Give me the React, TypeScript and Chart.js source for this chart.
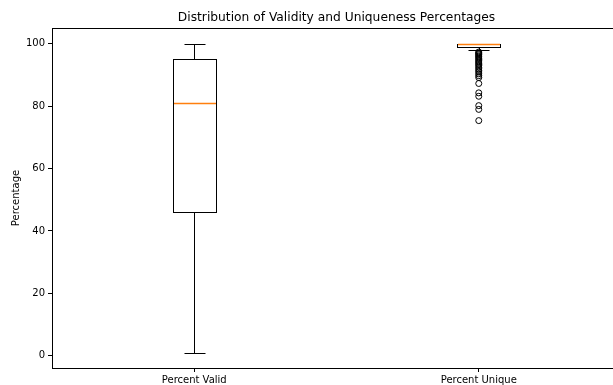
import React, { useEffect, useRef } from "react";
import { Chart, registerables } from "chart.js";

Chart.register(...registerables);

const chartTitle = "Distribution of Validity and Uniqueness Percentages";
const yAxisTitle = "Percentage";
const categories = ["Percent Valid", "Percent Unique"];
const whiskerLow = [1, 98.1];
const q1 = [46, 99];
const median = [81, 100];
const q3 = [95, 100];
const whiskerHigh = [100, 100];
const outliersValid: number[] = [];
const outliersUnique = [
  97.4, 97.1, 96.8, 96.5, 96.1, 95.8, 95.4, 95.0, 94.6, 94.2, 93.8, 93.4, 93.0,
  92.5, 92.0, 91.5, 91.0, 90.4, 89.8, 89.2, 87.3, 84.3, 83.2, 80.2, 79.0, 75.4,
];
const yTicks = [0, 20, 40, 60, 80, 100];
const yMin = -3.95;
const yMax = 105.1;

const outliers = [outliersValid, outliersUnique];

const BOX_HALF = 0.075;
const CAP_HALF = 0.0375;

const boxPlugin = {
  id: "boxplotDraw",
  afterDatasetsDraw(chart: any) {
    const { ctx, scales, chartArea } = chart;
    const x = scales.x;
    const y = scales.y;
    const snap = (v: number) => Math.round(v) + 0.5;
    const line = (x1: number, y1: number, x2: number, y2: number) => {
      ctx.beginPath();
      ctx.moveTo(x1, y1);
      ctx.lineTo(x2, y2);
      ctx.stroke();
    };
    ctx.save();
    categories.forEach((_, i) => {
      const pos = i + 1;
      const xc = snap(x.getPixelForValue(pos));
      const xl = snap(x.getPixelForValue(pos - BOX_HALF));
      const xr = snap(x.getPixelForValue(pos + BOX_HALF));
      const cl = snap(x.getPixelForValue(pos - CAP_HALF));
      const cr = snap(x.getPixelForValue(pos + CAP_HALF));
      const yLo = snap(y.getPixelForValue(whiskerLow[i]));
      const yQ1 = snap(y.getPixelForValue(q1[i]));
      const yMed = snap(y.getPixelForValue(median[i]));
      const yQ3 = snap(y.getPixelForValue(q3[i]));
      const yHi = snap(y.getPixelForValue(whiskerHigh[i]));
      ctx.lineWidth = 1;
      ctx.strokeStyle = "#000";
      line(xc, yLo, xc, yQ1);
      line(xc, yQ3, xc, yHi);
      line(cl, yLo, cr, yLo);
      line(cl, yHi, cr, yHi);
      ctx.strokeRect(xl, yQ3, xr - xl, yQ1 - yQ3);
      ctx.lineWidth = 1.4;
      ctx.strokeStyle = "#ff7f0e";
      line(xl + 0.5, yMed, xr - 0.5, yMed);
    });
    ctx.lineWidth = 1;
    ctx.strokeStyle = "#000";
    ctx.strokeRect(
      snap(chartArea.left),
      snap(chartArea.top),
      Math.round(chartArea.width),
      Math.round(chartArea.height)
    );
    ctx.restore();
  },
};

export default function App() {
  const ref = useRef<HTMLCanvasElement>(null);

  useEffect(() => {
    document.body.style.margin = "0";
    Chart.defaults.font.family = "'DejaVu Sans', sans-serif";
    const canvas = ref.current;
    if (!canvas) return;
    const data = outliers.flatMap((arr, i) => arr.map((v) => ({ x: i + 1, y: v })));
    const chart = new Chart(canvas, {
      type: "scatter",
      data: {
        datasets: [
          {
            data,
            pointRadius: 3,
            pointHoverRadius: 3,
            pointStyle: "circle",
            borderColor: "#000",
            backgroundColor: "rgba(0,0,0,0)",
            borderWidth: 1,
          },
        ],
      },
      options: {
        responsive: false,
        animation: false,
        devicePixelRatio: 1,
        layout: { padding: 0 },
        plugins: {
          legend: { display: false },
          tooltip: { enabled: false },
          title: {
            display: true,
            text: chartTitle,
            color: "#000",
            font: { size: 12.25, weight: "normal" },
            padding: { top: 10, bottom: 3.3 },
          },
        },
        scales: {
          x: {
            type: "linear",
            min: 0.5,
            max: 2.5,
            afterBuildTicks: (s: any) => {
              s.ticks = categories.map((_, i) => ({ value: i + 1 }));
            },
            afterFit: (s: any) => {
              s.height = 17;
            },
            ticks: {
              callback: (_v: any, idx: number) => categories[idx] ?? "",
              color: "#000",
              font: { size: 10 },
              padding: 2,
              autoSkip: false,
              maxRotation: 0,
            },
            grid: { drawOnChartArea: false, tickLength: 4, color: "#000" },
            border: { color: "#000", width: 1 },
          },
          y: {
            min: yMin,
            max: yMax,
            afterBuildTicks: (s: any) => {
              s.ticks = yTicks.map((v) => ({ value: v }));
            },
            afterFit: (s: any) => {
              s.width = 52;
            },
            ticks: { color: "#000", font: { size: 10 }, padding: 3 },
            grid: { drawOnChartArea: false, tickLength: 4, color: "#000" },
            border: { color: "#000", width: 1 },
            title: {
              display: true,
              text: yAxisTitle,
              color: "#000",
              font: { size: 10 },
              padding: { top: 10, bottom: 0 },
            },
          },
          y2: {
            type: "linear",
            position: "right",
            display: true,
            min: yMin,
            max: yMax,
            ticks: { display: false },
            grid: { display: false },
            border: { display: false },
            afterFit: (s: any) => {
              s.width = 52;
            },
          },
        },
      },
      plugins: [boxPlugin],
    } as any);
    return () => chart.destroy();
  }, []);

  return (
    <div style={{ width: 613, height: 385, overflow: "hidden", position: "relative", background: "#fff" }}>
      <canvas ref={ref} width={673} height={385} style={{ display: "block" }} />
    </div>
  );
}
